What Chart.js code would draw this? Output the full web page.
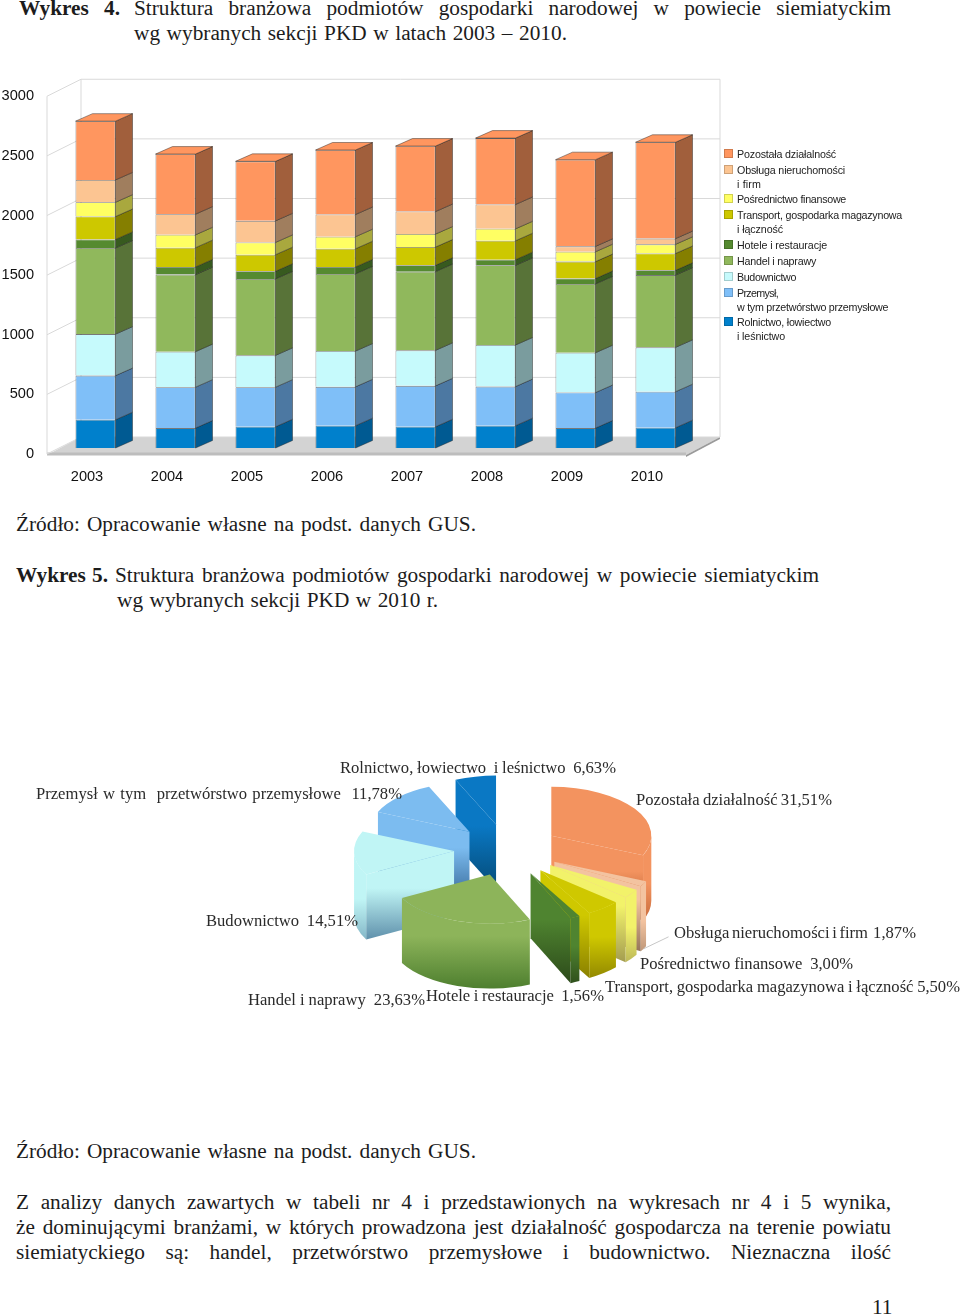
<!DOCTYPE html>
<html lang="pl"><head><meta charset="utf-8">
<title>Wykresy</title>
<script src="https://cdn.jsdelivr.net/npm/chart.js@4"></script>
<style>
html,body{margin:0;padding:0;background:#fff;width:960px;height:1316px;overflow:hidden}
#page{position:relative;width:960px;height:1316px}
canvas{position:absolute}
.t{position:absolute;white-space:nowrap;font-family:"Liberation Serif",serif;font-size:21.3px;line-height:24px;height:24px;color:#1c1c1c;transform:translateY(-12px)}
.b{font-weight:bold}
.p{font-size:16.6px;color:#2a2a2a}
.lg{position:absolute;font-family:"Liberation Sans",sans-serif;font-size:10.7px;line-height:14px;height:14px;white-space:nowrap;color:#222;transform:translateY(-7px)}
.sw{position:absolute;width:9px;height:9px;box-sizing:border-box;border:1px solid rgba(0,0,0,.18)}
</style></head><body><div id="page">
<div class="t b" style="left:19px;top:8px" data-w="101">Wykres&nbsp; 4.</div>
<div class="t" style="left:134px;top:8px" data-w="757">Struktura branżowa podmiotów gospodarki narodowej w powiecie siemiatyckim</div>
<div class="t" style="left:134px;top:33px" data-w="433">wg wybranych sekcji PKD w latach 2003 – 2010.</div>

<canvas id="bars" width="960" height="440" style="left:0;top:60px;width:960px;height:440px"></canvas>
<canvas id="pie" width="400" height="400" style="left:307px;top:650px;width:400px;height:400px"></canvas>
<div id="legend"></div>

<div class="t" style="left:16px;top:524px" data-w="460">Źródło: Opracowanie własne na podst. danych GUS.</div>
<div class="t b" style="left:16px;top:575px" data-w="92">Wykres 5.</div>
<div class="t" style="left:115px;top:575px" data-w="704">Struktura branżowa podmiotów gospodarki narodowej w powiecie siemiatyckim</div>
<div class="t" style="left:117px;top:600px" data-w="321">wg wybranych sekcji PKD w 2010 r.</div>

<div class="t p" style="left:340px;top:768px" data-w="276">Rolnictwo, łowiectwo&nbsp; i leśnictwo&nbsp; 6,63%</div>
<div class="t p" style="left:36px;top:794px" data-w="366">Przemysł w tym&nbsp; przetwórstwo przemysłowe&nbsp; 11,78%</div>
<div class="t p" style="left:636px;top:800px" data-w="196">Pozostała działalność 31,51%</div>
<div class="t p" style="left:206px;top:921px" data-w="152">Budownictwo&nbsp; 14,51%</div>
<div class="t p" style="left:674px;top:933px" data-w="242">Obsługa nieruchomości i firm&nbsp; 1,87%</div>
<div class="t p" style="left:640px;top:964px" data-w="213">Pośrednictwo finansowe&nbsp; 3,00%</div>
<div class="t p" style="left:605px;top:987px" data-w="355">Transport, gospodarka magazynowa i łączność 5,50%</div>
<div class="t p" style="left:248px;top:1000px" data-w="177">Handel i naprawy&nbsp; 23,63%</div>
<div class="t p" style="left:426px;top:996px" data-w="178">Hotele i restauracje&nbsp; 1,56%</div>

<div class="t" style="left:16px;top:1151px" data-w="460">Źródło: Opracowanie własne na podst. danych GUS.</div>
<div class="t" style="left:16px;top:1202px" data-w="875">Z analizy danych zawartych w tabeli nr 4 i przedstawionych na wykresach nr 4 i 5 wynika,</div>
<div class="t" style="left:16px;top:1227px" data-w="875">że dominującymi branżami, w których prowadzona jest działalność gospodarcza na terenie powiatu</div>
<div class="t" style="left:16px;top:1252px" data-w="875">siemiatyckiego są: handel, przetwórstwo przemysłowe i budownictwo. Nieznaczna ilość</div>
<div class="t" style="left:872px;top:1307px">11</div>
</div>
<script>
// ---------- data ----------
const years = ['2003','2004','2005','2006','2007','2008','2009','2010'];
const rolnictwo   = [237,167,178,187,178,187,167,170];
const przemysl    = [370,343,332,326,343,328,298,302];
const budownictwo = [348,298,267,300,298,349,334,372];
const handel      = [722,646,641,647,660,668,577,606];
const hotele      = [72,64,64,58,53,47,45,40];
const transport   = [192,162,139,153,153,159,142,141];
const posrednictwo= [120,108,103,101,109,100,83,77];
const obsluga     = [187,173,181,186,189,204,45,48];
const pozostala   = [493,504,499,541,549,557,727,808];

const seriesNames = ['Rolnictwo, łowiectwo i leśnictwo','Przemysł, w tym przetwórstwo przemysłowe','Budownictwo','Handel i naprawy','Hotele i restauracje','Transport, gospodarka magazynowa i łączność','Pośrednictwo finansowe','Obsługa nieruchomości i firm','Pozostała działalność'];
const seriesValues = [rolnictwo,przemysl,budownictwo,handel,hotele,transport,posrednictwo,obsluga,pozostala];
const barColors = ['#0080cc','#7fbff8','#c6fafc','#90b85c','#558a30','#cdc800','#ffff63','#fcc592','#ff965f'];
const sideColors= ['#005a92','#4c78a2','#7a9c9e','#587338','#375a1f','#857f00','#a9a83e','#a07e5e','#a15f3c'];

const pieLabels = ['Pozostała działalność','Obsługa nieruchomości i firm','Pośrednictwo finansowe','Transport, gospodarka magazynowa i łączność','Hotele i restauracje','Handel i naprawy','Budownictwo','Przemysł w tym przetwórstwo przemysłowe','Rolnictwo, łowiectwo i leśnictwo'];
const pieShares = [31.51,1.87,3.00,5.50,1.56,23.63,14.51,11.78,6.63];
const pieTops   = ['#f3935f','#f3c3a0','#f2f26a','#cfc800','#4f8430','#8db45a','#c0f5f5','#7cbcf0','#0a78c4'];
const pieBottoms= ['#a54c20','#94745a','#a39c50','#8a8000','#2c4a1a','#4e7f2f','#5f90ab','#3c6f9e','#044a76'];

const legendRows = [
 [0,['Pozostała działalność'],[99]],
 [1,['Obsługa nieruchomości','i firm'],[108,24]],
 [2,['Pośrednictwo finansowe'],[109]],
 [3,['Transport, gospodarka magazynowa','i łączność'],[165,46]],
 [4,['Hotele i restauracje'],[90]],
 [5,['Handel i naprawy'],[79]],
 [6,['Budownictwo'],[59]],
 [7,['Przemysł,','w tym  przetwórstwo przemysłowe'],[41,151]],
 [8,['Rolnictwo, łowiectwo','i leśnictwo'],[94,48]]
];
const legendOrder = [8,7,6,5,4,3,2,1,0];

// ---------- 3D bar decoration ----------
const depth = {dx:17,dy:-7.5};
const box3d = {
  id:'box3d',
  beforeDatasetsDraw(chart){
    const {ctx,scales:{y},chartArea:a} = chart;
    const fx=a.left-8.5, bx=a.left+25.5, rx=a.left+664.5, frx=a.left+630.5;
    const zero=y.getPixelForValue(0);
    ctx.save();
    // floor
    ctx.fillStyle='#d3d3d3';
    ctx.beginPath();ctx.moveTo(fx,zero+7);ctx.lineTo(bx,zero-11);ctx.lineTo(rx,zero-11);ctx.lineTo(frx,zero+7);ctx.closePath();ctx.fill();
    ctx.fillStyle='#bdbdbd';
    ctx.fillRect(fx,zero+4.5,frx-fx,3);
    ctx.fillStyle='#9a9a9a';
    ctx.beginPath();ctx.moveTo(frx,zero+7);ctx.lineTo(rx,zero-11);ctx.lineTo(rx,zero-9);ctx.lineTo(frx,zero+9);ctx.closePath();ctx.fill();
    // walls and grid
    ctx.strokeStyle='#d9d9d9';ctx.lineWidth=1;
    for(const t of y.ticks){
      const p=y.getPixelForValue(t.value);
      ctx.beginPath();ctx.moveTo(fx,p+6);ctx.lineTo(bx,p-11);ctx.lineTo(rx,p-11);ctx.stroke();
    }
    const top=y.getPixelForValue(y.max);
    ctx.beginPath();ctx.moveTo(fx,top+6);ctx.lineTo(fx,zero+6);ctx.stroke();
    ctx.beginPath();ctx.moveTo(bx,top-11);ctx.lineTo(bx,zero-11);ctx.stroke();
    ctx.beginPath();ctx.moveTo(rx,top-11);ctx.lineTo(rx,zero-11);ctx.stroke();
    // side and top faces of the bars
    ctx.lineWidth=.8;ctx.strokeStyle='rgba(30,30,30,.55)';
    const last=chart.data.datasets.length-1;
    chart.data.datasets.forEach((ds,i)=>{
      chart.getDatasetMeta(i).data.forEach(el=>{
        const r=el.x+el.width/2,l=el.x-el.width/2;
        ctx.fillStyle=sideColors[i];
        ctx.beginPath();ctx.moveTo(r,el.y);ctx.lineTo(r+depth.dx,el.y+depth.dy);ctx.lineTo(r+depth.dx,el.base+depth.dy);ctx.lineTo(r,el.base);ctx.closePath();ctx.fill();ctx.stroke();
        if(i===last){
          ctx.fillStyle=barColors[i];
          ctx.beginPath();ctx.moveTo(l,el.y);ctx.lineTo(l+depth.dx,el.y+depth.dy);ctx.lineTo(r+depth.dx,el.y+depth.dy);ctx.lineTo(r,el.y);ctx.closePath();ctx.fill();ctx.stroke();
        }
      });
    });
    ctx.restore();
  }
};

new Chart(document.getElementById('bars'),{
  type:'bar',
  data:{labels:years,datasets:seriesValues.map((v,i)=>({label:seriesNames[i],data:v,backgroundColor:barColors[i],borderColor:'rgba(30,30,30,.6)',borderWidth:.8,barPercentage:.5,categoryPercentage:1,stack:'s'}))},
  plugins:[box3d],
  options:{
    responsive:false,animation:false,events:[],
    layout:{padding:{top:29,right:264.5,left:0,bottom:0}},
    plugins:{legend:{display:false},title:{display:false},tooltip:{enabled:false}},
    scales:{
      x:{stacked:true,grid:{display:false,drawTicks:false},border:{display:false},
         afterFit(s){s.height=52;},
         ticks:{padding:20,labelOffset:-8.5,maxRotation:0,color:'#111',font:{family:'"Liberation Sans",sans-serif',size:14.6}}},
      y:{stacked:true,min:0,max:3000,grid:{display:false,drawTicks:false},border:{display:false},
         afterFit(s){s.width=55.5;},
         ticks:{stepSize:500,padding:21.5,labelOffset:6,color:'#111',callback:v=>String(v),font:{family:'"Liberation Sans",sans-serif',size:14.6}}}
    }
  }
});

// ---------- exploded extruded pie ----------
const squash=.49, explode=53, wall=65;
const pie3d = {
  id:'pie3d',
  beforeDatasetDraw(chart,args){
    const {ctx}=chart;
    const arcs=args.meta.data;
    const order=arcs.map((a,i)=>i).sort((p,q)=>{
      const m=i=>(arcs[i].startAngle+arcs[i].endAngle)/2;
      return Math.sin(m(p))-Math.sin(m(q));
    });
    for(const i of order){
      const arc=arcs[i],s=arc.startAngle,e=arc.endAngle,m=(s+e)/2,r=arc.outerRadius;
      const ax=arc.x+Math.cos(m)*explode, ay=arc.y+Math.sin(m)*explode*squash;
      const pt=a=>[ax+r*Math.cos(a),ay+r*squash*Math.sin(a)];
      const shade=(y0,y1)=>{const g=ctx.createLinearGradient(0,y0,0,y1);g.addColorStop(0,pieTops[i]);g.addColorStop(.42,pieTops[i]);g.addColorStop(1,pieBottoms[i]);return g;};
      const radial=a=>{
        const p=pt(a);
        ctx.fillStyle=shade(Math.min(ay,p[1]),Math.max(ay,p[1])+wall);
        ctx.beginPath();ctx.moveTo(ax,ay);ctx.lineTo(p[0],p[1]);ctx.lineTo(p[0],p[1]+wall);ctx.lineTo(ax,ay+wall);ctx.closePath();ctx.fill();
      };
      if(Math.cos(s)<0) radial(s);
      if(Math.cos(e)>0) radial(e);
      // curved outer wall: only the part turned towards the viewer
      for(const shift of [0,2*Math.PI]){
        const a0=Math.max(s,shift),a1=Math.min(e,Math.PI+shift);
        if(a1>a0){
          ctx.fillStyle=shade(ay+r*squash*Math.min(Math.sin(a0),Math.sin(a1)),ay+r*squash+wall);
          ctx.beginPath();
          ctx.ellipse(ax,ay,r,r*squash,0,a0,a1);
          ctx.ellipse(ax,ay+wall,r,r*squash,0,a1,a0,true);
          ctx.closePath();ctx.fill();
        }
      }
      // top face, the library's own arc element
      ctx.save();
      ctx.translate(ax,ay);ctx.scale(1,squash);ctx.translate(-arc.x,-arc.y);
      arc.draw(ctx);
      ctx.restore();
    }
    // thin leader line
    const ob=arcs[1],om=(ob.startAngle+ob.endAngle)/2;
    const lx=ob.x+Math.cos(om)*(explode+ob.outerRadius),ly=ob.y+Math.sin(om)*(explode+ob.outerRadius)*squash+wall;
    ctx.strokeStyle='#b9b9b9';ctx.lineWidth=.8;
    ctx.beginPath();ctx.moveTo(lx,ly);ctx.lineTo(lx+25,ly-12);ctx.stroke();
    return false;
  }
};
new Chart(document.getElementById('pie'),{
  type:'pie',
  data:{labels:pieLabels,datasets:[{data:pieShares,backgroundColor:pieTops,borderWidth:0}]},
  plugins:[pie3d],
  options:{responsive:false,animation:false,events:[],
    layout:{padding:100},
    plugins:{legend:{display:false},title:{display:false},tooltip:{enabled:false}}}
});

// ---------- legend and text fitting ----------
const legendEl=document.getElementById('legend');
const rowY=[[154],[170,184],[199],[215,229],[245],[261],[277],[293,307],[322,336]];
legendRows.forEach((row,k)=>{
  const idx=legendOrder[k];
  const sw=document.createElement('div');
  sw.className='sw';sw.style.cssText='left:724px;top:'+(rowY[k][0]-5.5)+'px;background:'+barColors[idx];
  legendEl.appendChild(sw);
  row[1].forEach((txt,j)=>{
    const d=document.createElement('div');
    d.className='lg';d.textContent=txt;d.dataset.w=row[2][j];d.dataset.fit='l';
    d.style.left='737px';d.style.top=rowY[k][j]+'px';
    legendEl.appendChild(d);
  });
});
document.querySelectorAll('[data-w]').forEach(el=>{
  const target=+el.dataset.w, nat=el.getBoundingClientRect().width, txt=el.textContent;
  if(el.dataset.fit==='l'){
    el.style.letterSpacing=((target-nat)/txt.length)+'px';
  }else{
    const gaps=(txt.match(/[ \u00a0]/g)||[]).length;
    if(gaps) el.style.wordSpacing=((target-nat)/gaps)+'px';
  }
});
</script>
</body></html>
